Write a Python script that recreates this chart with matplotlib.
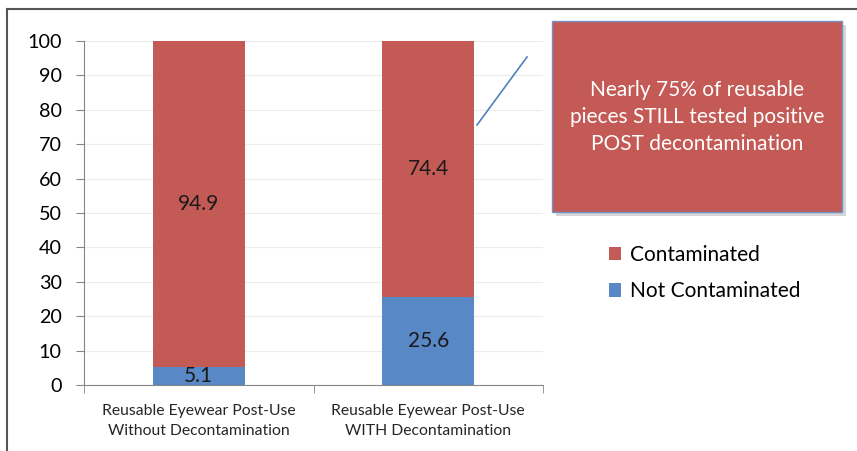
import numpy as np
import matplotlib.pyplot as plt
from matplotlib.patches import Rectangle
from matplotlib.lines import Line2D

# Datos del gráfico
categorias = ["Reusable Eyewear Post-Use\nWithout Decontamination",
              "Reusable Eyewear Post-Use\nWITH Decontamination"]
no_contaminado = [5.1, 25.6]
contaminado = [94.9, 74.4]
series = ["Contaminated", "Not Contaminated"]
nota = "Nearly 75% of reusable\npieces STILL tested positive\nPOST decontamination"

rojo = "#C45A55"
azul = "#5888C5"
plt.rcParams['font.family'] = ['Lato', 'DejaVu Sans']

fig = plt.figure(figsize=(8.57, 4.51), dpi=100)
W, H = 857, 451
ax = fig.add_axes([84 / W, 1 - 385 / H, (543 - 84) / W, (385 - 41) / H])

x = np.arange(len(categorias))
ancho = 0.4
ax.bar(x, no_contaminado, ancho, color=azul, label=series[1], zorder=2)
ax.bar(x, contaminado, ancho, bottom=no_contaminado, color=rojo, label=series[0], zorder=2)

# Etiquetas de datos
for i in range(len(x)):
    ax.text(x[i], no_contaminado[i] / 2, f"{no_contaminado[i]}", ha='center', va='center',
            fontsize=15, color='#1a1a1a', zorder=3)
    ax.text(x[i], no_contaminado[i] + contaminado[i] / 2, f"{contaminado[i]}", ha='center',
            va='center', fontsize=15, color='#1a1a1a', zorder=3)

ax.set_xlim(-0.5, 1.5)
ax.set_ylim(0, 100)
ax.set_yticks(np.arange(0, 101, 10))
ax.tick_params(axis='y', labelsize=14.2, length=6, color='#868686', pad=10)
ax.set_xticks(x)
ax.set_xticklabels(categorias, fontsize=11.3, color='#262626', linespacing=1.5)
ax.tick_params(axis='x', length=0, pad=14)
ax.set_xticks([-0.5, 0.5, 1.5], minor=True)
ax.tick_params(axis='x', which='minor', length=6, color='#868686')
ax.grid(axis='y', color='#ececec', linewidth=0.8, zorder=0)
for s in ['top', 'right']:
    ax.spines[s].set_visible(False)
for s in ['left', 'bottom']:
    ax.spines[s].set_color('#868686')

# Leyenda
h, l = ax.get_legend_handles_labels()
fig.legend(h[::-1], l[::-1], loc='upper left', bbox_to_anchor=(590 / W, 1 - 226 / H),
           frameon=False, fontsize=15, handlelength=0.6, handleheight=0.6,
           handletextpad=0.4, labelspacing=0.8)

# Caja de nota con sombra
x0, y0, x1, y1 = 552, 21, 842, 212
fig.add_artist(Rectangle(((x0 + 4) / W, 1 - (y1 + 4) / H), (x1 - x0) / W, (y1 - y0) / H,
                         transform=fig.transFigure, facecolor='#bbbbbb', edgecolor='none',
                         alpha=0.6, zorder=4))
fig.add_artist(Rectangle((x0 / W, 1 - y1 / H), (x1 - x0) / W, (y1 - y0) / H,
                         transform=fig.transFigure, facecolor=rojo, edgecolor='#6f93c8',
                         linewidth=1, zorder=5))
fig.text((x0 + x1) / 2 / W, 1 - 117 / H, nota, ha='center', va='center', color='white',
         fontsize=15, linespacing=1.42, zorder=6)
fig.add_artist(Line2D([477 / W, 527 / W], [1 - 125 / H, 1 - 57 / H], color='#4F81BD',
                      linewidth=1.2, zorder=6))

# Borde del gráfico (recortado)
fig.add_artist(Line2D([7 / W, 1], [1 - 9 / H, 1 - 9 / H], color='#555555', linewidth=1.5))
fig.add_artist(Line2D([7 / W, 7 / W], [1 - 9 / H, 0], color='#555555', linewidth=1.5))

fig.savefig("out.png", dpi=100)
